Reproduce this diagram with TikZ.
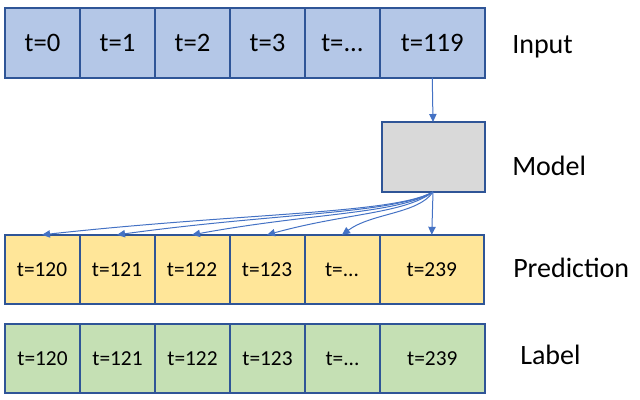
\documentclass[tikz,border=0pt]{standalone}
\usepackage{fontspec}
\setmainfont{Carlito}
\usetikzlibrary{positioning,arrows.meta}
\definecolor{cellline}{HTML}{2F5597}
\definecolor{infill}{HTML}{B4C7E7}
\definecolor{predfill}{HTML}{FFE699}
\definecolor{labfill}{HTML}{C5E0B4}
\definecolor{modelfill}{HTML}{D9D9D9}
\definecolor{flowblue}{HTML}{4472C4}
\tikzset{
  cell/.style={draw=cellline, line width=1.5pt, outer sep=0pt, inner sep=0pt,
    minimum width=56.25pt, minimum height=52pt},
  widecell/.style={minimum width=78.4pt},
  incell/.style={cell, fill=infill, font=\fontsize{20}{24}\selectfont},
  predcell/.style={cell, fill=predfill, font=\fontsize{16}{19}\selectfont},
  labcell/.style={cell, fill=labfill, font=\fontsize{16}{19}\selectfont},
  modelbox/.style={draw=cellline, line width=1.5pt, outer sep=0pt, fill=modelfill,
    minimum width=77.25pt, minimum height=52.5pt},
  rowname/.style={anchor=base west, inner sep=0pt, font=\fontsize{21}{25}\selectfont},
  flow/.style={draw=flowblue, line width=0.75pt, -{Triangle[length=6pt,width=5.5pt]}}
}
\begin{document}
\begin{tikzpicture}[x=0.75pt,y=-0.75pt]
  \useasboundingbox (0,0) rectangle (640,400);
  % input sequence
  \node[incell] (in0) at (42.5,43) {t=0};
  \node[incell,right=0pt of in0] (in1) {t=1};
  \node[incell,right=0pt of in1] (in2) {t=2};
  \node[incell,right=0pt of in2] (in3) {t=3};
  \node[incell,right=0pt of in3] (in4) {t=...};
  \node[incell,widecell,right=0pt of in4] (in5) {t=119};
  % model
  \node[modelbox] (model) at (433,157) {};
  % prediction
  \node[predcell] (p0) at (42,269.5) {t=120};
  \node[predcell,right=0pt of p0] (p1) {t=121};
  \node[predcell,right=0pt of p1] (p2) {t=122};
  \node[predcell,right=0pt of p2] (p3) {t=123};
  \node[predcell,right=0pt of p3] (p4) {t=...};
  \node[predcell,widecell,right=0pt of p4] (p5) {t=239};
  % label
  \node[labcell] (l0) at (42.5,358.5) {t=120};
  \node[labcell,right=0pt of l0] (l1) {t=121};
  \node[labcell,right=0pt of l1] (l2) {t=122};
  \node[labcell,right=0pt of l2] (l3) {t=123};
  \node[labcell,right=0pt of l3] (l4) {t=...};
  \node[labcell,widecell,right=0pt of l4] (l5) {t=239};
  % row names
  \node[rowname] (nin) at (512,53) {Input};
  \node[rowname] (nmodel) at (512,175) {Model};
  \node[rowname] (npred) at (513,277) {Prediction};
  \node[rowname] (nlab) at (520,364) {Label};
  % arrows
  \draw[flow] (in5.south) -- (model.north);
  \draw[flow] (model.south) -- (p5.north);
  \foreach \p/\a/\b in {p0/40/200, p1/40/160, p2/35/120, p3/30/80, p4/15/30}
    \draw[flow] (model.south) .. controls +(-\a,22) and +(\b,-22) .. (\p.north);
\end{tikzpicture}
\end{document}
